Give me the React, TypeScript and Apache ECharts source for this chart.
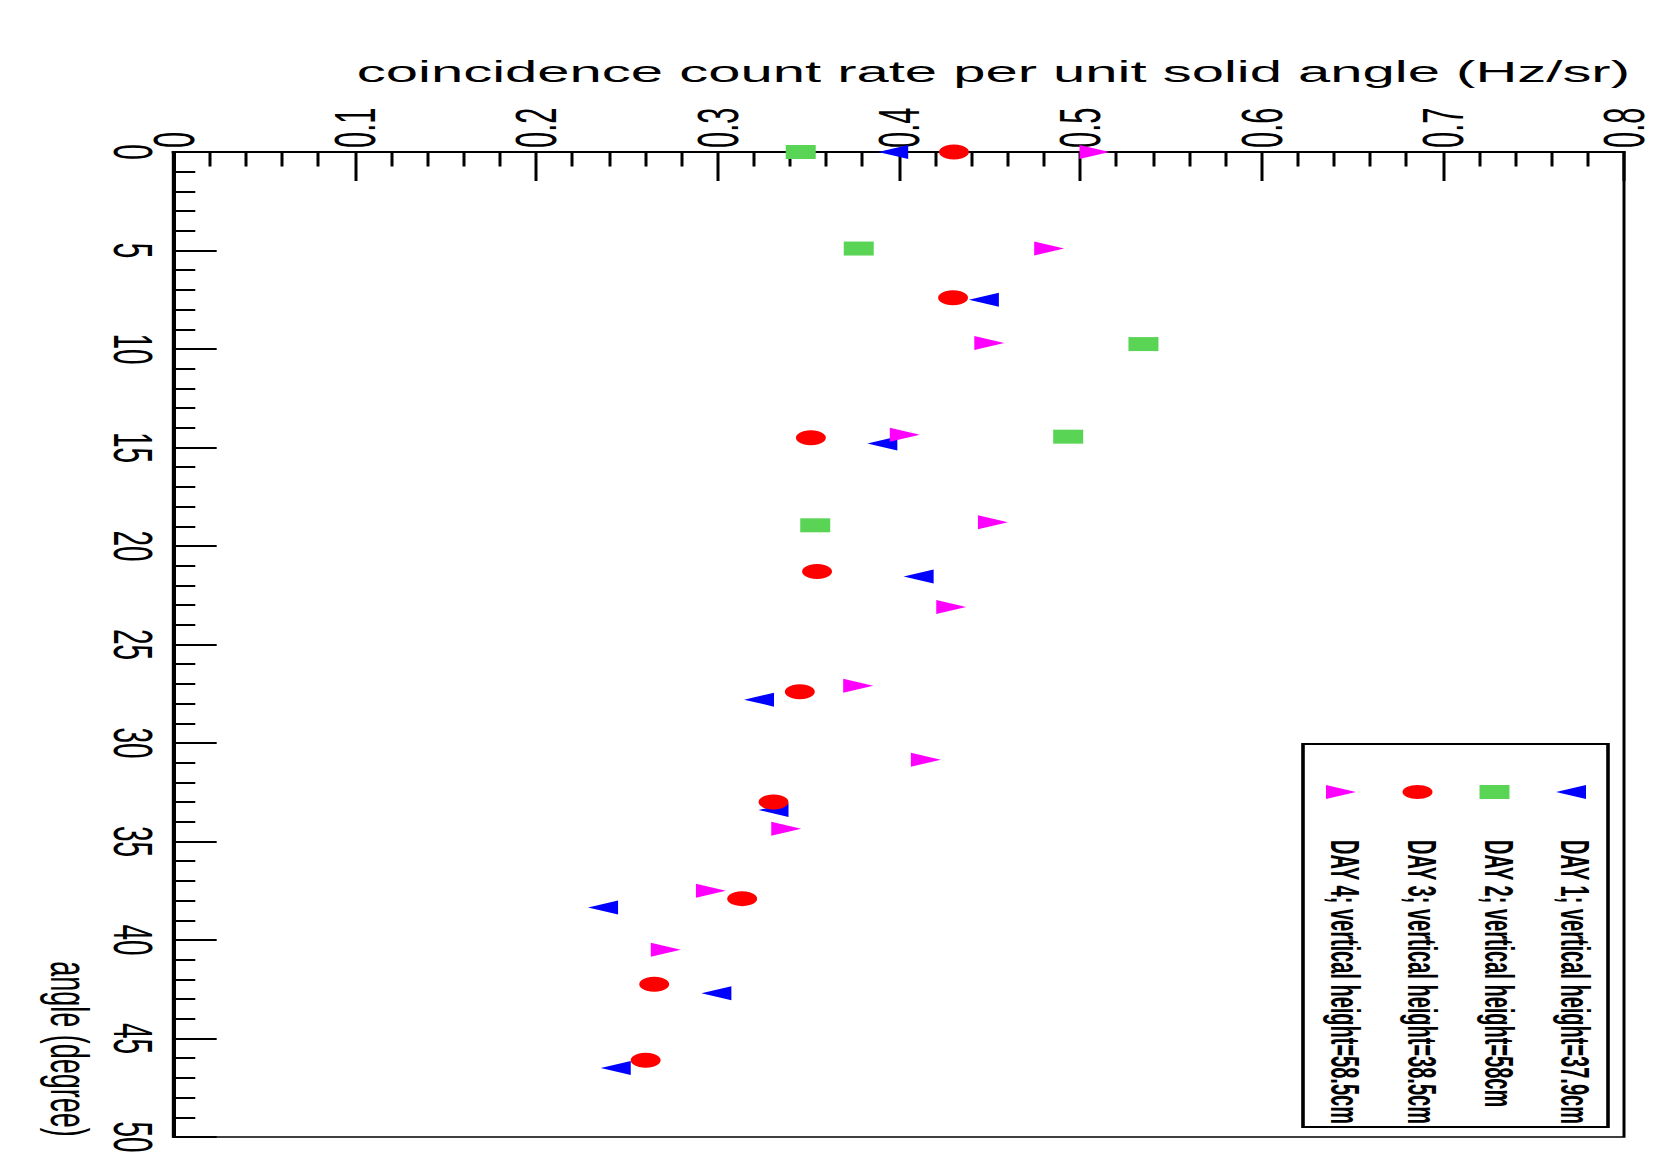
import React, { useEffect, useRef } from 'react';
import * as echarts from 'echarts';

// ---- data ----
const rateTickLabels = ['0', '0.1', '0.2', '0.3', '0.4', '0.5', '0.6', '0.7', '0.8'];
const angleTickLabels = ['0', '5', '10', '15', '20', '25', '30', '35', '40', '45', '50'];

const seriesNames = [
  'DAY 1; vertical height=37.9cm',
  'DAY 2; vertical height=58cm',
  'DAY 3; vertical height=38.5cm',
  'DAY 4; vertical height=58.5cm',
];
const seriesColors = ['#0000ff', '#59d454', '#ff0000', '#ff00ff'];

const day1Angle = [0, 7.5, 14.8, 21.55, 27.8, 33.4, 38.35, 42.7, 46.5];
const day1Rate = [0.397, 0.447, 0.391, 0.411, 0.323, 0.331, 0.237, 0.2995, 0.244];

const day2Angle = [0, 4.9, 9.75, 14.45, 18.95];
const day2Rate = [0.346, 0.378, 0.535, 0.4935, 0.354];

const day3Angle = [0, 7.4, 14.5, 21.3, 27.4, 33.0, 37.9, 42.25, 46.1];
const day3Rate = [0.4305, 0.43, 0.3516, 0.355, 0.3455, 0.331, 0.3137, 0.2652, 0.2605];

const day4Angle = [0, 4.9, 9.7, 14.35, 18.8, 23.1, 27.1, 30.85, 34.35, 37.5, 40.5];
const day4Rate = [0.508, 0.483, 0.45, 0.4034, 0.452, 0.429, 0.3777, 0.415, 0.338, 0.2965, 0.2716];

const xTitle = 'coincidence count rate per unit solid angle (Hz/sr)';
const yTitle = 'angle (degree)';

// ---- layout (drawn at half width, stretched 2x horizontally) ----
const W = 826.5;
const H = 1159;
const FONT = '"Liberation Sans", Arial, Helvetica, sans-serif';

const angles = [day1Angle, day2Angle, day3Angle, day4Angle];
const rates = [day1Rate, day2Rate, day3Rate, day4Rate];

const symbolDefs = [
  { symbol: 'triangle', size: [14, 15], rotate: 90 },
  { symbol: 'rect', size: [15, 14], rotate: 0 },
  { symbol: 'circle', size: [15, 15], rotate: 0 },
  { symbol: 'triangle', size: [14, 15], rotate: -90 },
];

function legendMarker(i: number, cx: number, cy: number) {
  const fill = seriesColors[i];
  if (i === 0) {
    return { type: 'polygon', z: 101, shape: { points: [[cx - 7.5, cy], [cx + 7.5, cy - 7], [cx + 7.5, cy + 7]] }, style: { fill } };
  }
  if (i === 1) {
    return { type: 'rect', z: 101, shape: { x: cx - 7.5, y: cy - 7, width: 15, height: 14 }, style: { fill } };
  }
  if (i === 2) {
    return { type: 'ellipse', z: 101, shape: { cx, cy, rx: 7.5, ry: 7 }, style: { fill } };
  }
  return { type: 'polygon', z: 101, shape: { points: [[cx + 7.5, cy], [cx - 7.5, cy - 7], [cx - 7.5, cy + 7]] }, style: { fill } };
}

export default function App() {
  const ref = useRef<HTMLDivElement>(null);

  useEffect(() => {
    if (!ref.current) return;
    const chart = echarts.init(ref.current, null, { renderer: 'svg', width: W, height: H });

    const legendCols = [785.5, 747.25, 708.75, 670.5];

    const graphic: any[] = [
      {
        type: 'text',
        x: 815,
        y: 72,
        z: 100,
        style: {
          text: xTitle,
          fontSize: 29,
          fontFamily: FONT,
          fill: '#000',
          align: 'right',
          textAlign: 'right',
          verticalAlign: 'middle',
          textVerticalAlign: 'middle',
        },
      },
      {
        type: 'text',
        x: 35,
        y: 1049,
        rotation: -Math.PI / 2,
        z: 100,
        style: {
          text: yTitle,
          fontSize: 27,
          fontFamily: FONT,
          fill: '#000',
          align: 'center',
          textAlign: 'center',
          verticalAlign: 'middle',
          textVerticalAlign: 'middle',
        },
      },
      {
        type: 'rect',
        z: 100,
        shape: { x: 651.5, y: 744, width: 152.5, height: 383 },
        style: { fill: '#fff', stroke: '#000', lineWidth: 1.8 },
      },
    ];

    seriesNames.forEach((name, i) => {
      const cx = legendCols[i];
      graphic.push(legendMarker(i, cx, 792));
      graphic.push({
        type: 'text',
        x: cx + 2,
        y: 840,
        rotation: -Math.PI / 2,
        z: 101,
        style: {
          text: name,
          fontSize: 20,
          fontWeight: 'bold',
          fontFamily: FONT,
          fill: '#000',
          align: 'left',
          textAlign: 'left',
          verticalAlign: 'middle',
          textVerticalAlign: 'middle',
        },
      });
    });

    const option: any = {
      animation: false,
      backgroundColor: '#fff',
      grid: {
        left: 86.65,
        right: W - 815.25,
        top: 152,
        bottom: H - 1137,
        show: true,
        borderColor: '#000',
        borderWidth: 1.5,
        backgroundColor: 'transparent',
      },
      xAxis: {
        type: 'value',
        position: 'top',
        min: 0,
        max: 0.8,
        interval: 0.1,
        axisLine: { show: true, onZero: false, lineStyle: { color: '#000', width: 2 } },
        axisTick: { show: true, inside: true, length: 29, lineStyle: { color: '#000', width: 1.5 } },
        minorTick: { show: true, splitNumber: 5, length: 14.5, lineStyle: { color: '#000', width: 1.5 } },
        splitLine: { show: false },
        minorSplitLine: { show: false },
        axisLabel: {
          rotate: -90,
          margin: 4,
          fontSize: 29,
          lineHeight: 20,
          fontFamily: FONT,
          color: '#000',
          formatter: (v: number) => rateTickLabels[Math.round(v * 10)] ?? '',
        },
      },
      yAxis: {
        type: 'value',
        position: 'left',
        inverse: true,
        min: 0,
        max: 50,
        interval: 5,
        axisLine: { show: true, onZero: false, lineStyle: { color: '#000', width: 2 } },
        axisTick: { show: true, inside: true, length: 21.7, lineStyle: { color: '#000', width: 2 } },
        minorTick: { show: true, splitNumber: 5, length: 11, lineStyle: { color: '#000', width: 2 } },
        splitLine: { show: false },
        minorSplitLine: { show: false },
        axisLabel: {
          rotate: -90,
          margin: 6,
          fontSize: 28,
          fontFamily: FONT,
          color: '#000',
          formatter: (v: number) => angleTickLabels[Math.round(v / 5)] ?? '',
        },
      },
      series: seriesNames.map((name, i) => ({
        name,
        type: 'scatter',
        symbol: symbolDefs[i].symbol,
        symbolSize: symbolDefs[i].size,
        symbolRotate: symbolDefs[i].rotate,
        itemStyle: { color: seriesColors[i], opacity: 1 },
        data: angles[i].map((a, k) => [rates[i][k], a]),
      })),
      graphic,
    };

    chart.setOption(option);
    return () => chart.dispose();
  }, []);

  return (
    <div
      ref={ref}
      style={{
        position: 'absolute',
        left: 0,
        top: 0,
        width: W,
        height: H,
        transform: 'scaleX(2)',
        transformOrigin: '0 0',
        background: '#fff',
      }}
    />
  );
}
